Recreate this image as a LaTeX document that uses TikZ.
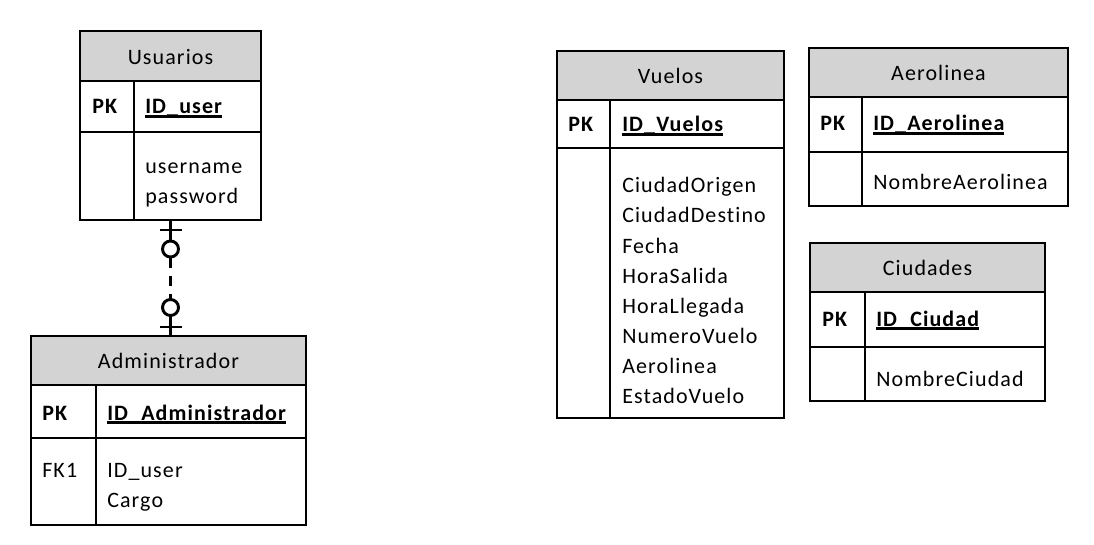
\documentclass[tikz,border=0pt]{standalone}
\usepackage{fontspec}
\setmainfont{Carlito}[LetterSpace=5, RawFeature=-liga]
\usepackage{xcolor}
\definecolor{hdrgray}{HTML}{D3D3D3}
\newcommand{\pkey}[1]{\setbox0\hbox{\bfseries #1}\rlap{\rule[-3pt]{\wd0}{1.9pt}}\box0}
\usetikzlibrary{calc}

\begin{document}
\begin{tikzpicture}[x=0.75pt, y=-0.75pt,
    tbox/.style 2 args={draw, line width=1.5pt, minimum width=#1*0.75pt, minimum height=#2*0.75pt, inner sep=0pt, outer sep=0pt, anchor=north west},
    thead/.style={fill=hdrgray, font=\fontsize{16.5}{19}\selectfont, text height=12.2pt, text depth=0pt},
    fld/.style={anchor=base west, inner sep=0pt, font=\fontsize{16.5}{19}\selectfont},
    key/.style={fld, font=\fontsize{16.5}{19}\selectfont\bfseries},
    link/.style={line width=1.5pt},
    rel/.style={line width=2.2pt}
  ]
    \path[use as bounding box, fill=white] (0,0) rectangle (1094,545);

    \node[tbox={181}{50}, thead] (usuHead) at (80,31) {Usuarios};
    \node[tbox={181}{51}] (usuKey) at (usuHead.south west) {};
    \node[tbox={181}{88}] (usuAttr) at (usuKey.south west) {};
    \draw[link] ($(usuKey.north west)+(54,0)$) -- ($(usuAttr.south west)+(54,0)$);
    \node[key] (usuPK) at (92,114) {PK};
    \node[fld] (usuID) at (145,114) {\pkey{ID\_user}};
    \node[fld] (usuF1) at (145,174) {username};
    \node[fld] (usuF2) at (145,204) {password};

    \node[tbox={275}{49}, thead] (admHead) at (31,336) {Administrador};
    \node[tbox={275}{53}] (admKey) at (admHead.south west) {};
    \node[tbox={275}{87}] (admAttr) at (admKey.south west) {};
    \draw[link] ($(admKey.north west)+(65,0)$) -- ($(admAttr.south west)+(65,0)$);
    \node[key] (admPK) at (42,420) {PK};
    \node[fld] (admID) at (107,420) {\pkey{ID\_Administrador}};
    \node[fld] (admFK) at (42,477) {FK1};
    \node[fld] (admF1) at (107,477) {ID\_user};
    \node[fld] (admF2) at (107,507) {Cargo};

    \node[tbox={227}{49}, thead] (vueHead) at (557,51) {Vuelos};
    \node[tbox={227}{48}] (vueKey) at (vueHead.south west) {};
    \node[tbox={227}{270}] (vueAttr) at (vueKey.south west) {};
    \draw[link] ($(vueKey.north west)+(53,0)$) -- ($(vueAttr.south west)+(53,0)$);
    \node[key] (vuePK) at (568,132) {PK};
    \node[fld] (vueID) at (622,132) {\pkey{ID\_Vuelos}};
    \foreach \f [count=\i from 0] in {CiudadOrigen,CiudadDestino,Fecha,HoraSalida,HoraLlegada,NumeroVuelo,Aerolinea,EstadoVuelo}
      \node[fld] (vueF\i) at (622,193+30*\i) {\f};

    \node[tbox={259}{49}, thead] (aerHead) at (809,48) {Aerolinea};
    \node[tbox={259}{55}] (aerKey) at (aerHead.south west) {};
    \node[tbox={259}{54}] (aerAttr) at (aerKey.south west) {};
    \draw[link] ($(aerKey.north west)+(53,0)$) -- ($(aerAttr.south west)+(53,0)$);
    \node[key] (aerPK) at (820,131) {PK};
    \node[fld] (aerID) at (873,131) {\pkey{ID\_Aerolinea}};
    \node[fld] (aerF1) at (873,190) {NombreAerolinea};

    \node[tbox={235}{49}, thead] (ciuHead) at (810,243) {Ciudades};
    \node[tbox={235}{55}] (ciuKey) at (ciuHead.south west) {};
    \node[tbox={235}{54}] (ciuAttr) at (ciuKey.south west) {};
    \draw[link] ($(ciuKey.north west)+(55,0)$) -- ($(ciuAttr.south west)+(55,0)$);
    \node[key] (ciuPK) at (822,326) {PK};
    \node[fld] (ciuID) at (876,326) {\pkey{ID\_Ciudad}};
    \node[fld] (ciuF1) at (876,386) {NombreCiudad};

    \coordinate (admTop) at (usuAttr.south |- admHead.north);
    \coordinate (topO) at ($(usuAttr.south)+(0,29)$);
    \coordinate (botO) at ($(admTop)+(0,-28.5)$);
    \draw[rel] (usuAttr.south) -- (topO);
    \draw[rel, dash pattern=on 7.5pt off 6pt] ($(topO)+(0,9)$) -- ($(botO)+(0,-9)$);
    \draw[rel] (botO) -- (admTop);
    \draw[rel] ($(usuAttr.south)+(-11,10)$) -- ++(22,0);
    \draw[rel] ($(admTop)+(-11,-9)$) -- ++(22,0);
    \draw[rel, fill=white] (topO) circle (8);
    \draw[rel, fill=white] (botO) circle (8);
  \end{tikzpicture}
\end{document}
